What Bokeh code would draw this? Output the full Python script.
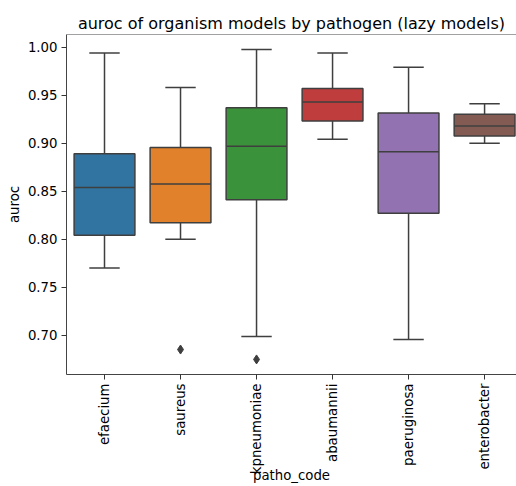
import numpy as np
from bokeh.plotting import figure
from bokeh.models import FixedTicker, Span, ColumnDataSource, NumeralTickFormatter
from bokeh.embed import file_html
from bokeh.resources import INLINE

pathogens = ["efaecium", "saureus", "kpneumoniae", "abaumannii", "paeruginosa", "enterobacter"]
whisker_low = [0.770, 0.800, 0.6986, 0.904, 0.6955, 0.900]
q1 = [0.804, 0.817, 0.841, 0.923, 0.827, 0.9074]
median = [0.8537, 0.8575, 0.8967, 0.9428, 0.891, 0.9178]
q3 = [0.889, 0.8956, 0.937, 0.957, 0.9313, 0.930]
whisker_high = [0.9938, 0.958, 0.9976, 0.9938, 0.979, 0.941]
outlier_pathogen = ["saureus", "kpneumoniae"]
outlier_auroc = [0.685, 0.6747]
colors = ["#3274a1", "#e1812c", "#3a923a", "#c03d3e", "#9372b2", "#845b53"]
y_ticks = [0.70, 0.75, 0.80, 0.85, 0.90, 0.95, 1.00]

FONT = "DejaVu Sans"
LINE = "#3f3f3f"
y_lo, y_hi = 0.659, 1.0132

xs = list(range(len(pathogens)))
box_w = 0.8
cap_w = 0.4

p = figure(width=516, height=486, output_backend="svg", toolbar_location=None,
           x_range=(-0.5, 5.42), y_range=(y_lo, y_hi),
           min_border_left=66, min_border_right=0, min_border_top=34)
p.title.text = "auroc of organism models by pathogen (lazy models)"
p.title.text_font = FONT
p.title.text_font_size = "16px"
p.title.text_font_style = "normal"
p.title.align = "center"
p.title.text_color = "#000000"
p.title.standoff = 4

p.grid.visible = False
p.outline_line_color = None
p.background_fill_color = "white"
p.border_fill_color = "white"

src = ColumnDataSource(dict(
    x=xs, name=pathogens, lo=whisker_low, q1=q1, med=median, q3=q3, hi=whisker_high,
    color=colors,
    x_l=[x - box_w / 2 for x in xs], x_r=[x + box_w / 2 for x in xs],
    c_l=[x - cap_w / 2 for x in xs], c_r=[x + cap_w / 2 for x in xs],
))

p.segment(x0="x", y0="q3", x1="x", y1="hi", source=src, line_color=LINE, line_width=1.5)
p.segment(x0="x", y0="lo", x1="x", y1="q1", source=src, line_color=LINE, line_width=1.5)
p.segment(x0="c_l", y0="hi", x1="c_r", y1="hi", source=src, line_color=LINE, line_width=1.5)
p.segment(x0="c_l", y0="lo", x1="c_r", y1="lo", source=src, line_color=LINE, line_width=1.5)
p.vbar(x="x", width=box_w, bottom="q1", top="q3", source=src, fill_color="color",
       line_color=LINE, line_width=1.5)
p.segment(x0="x_l", y0="med", x1="x_r", y1="med", source=src, line_color=LINE, line_width=1.5)

ox = [pathogens.index(n) for n in outlier_pathogen]
p.scatter(ox, outlier_auroc, marker="diamond", size=9, fill_color=LINE, line_color=LINE)

p.add_layout(Span(location=y_hi, dimension="width", line_color="#444444", line_width=1))

p.xaxis.ticker = FixedTicker(ticks=xs)
p.xaxis.major_label_overrides = {i: n for i, n in enumerate(pathogens)}
p.xaxis.major_label_orientation = np.pi / 2
p.xaxis.axis_label = "patho_code"
p.yaxis.ticker = FixedTicker(ticks=y_ticks)
p.yaxis.formatter = NumeralTickFormatter(format="0.00")
p.yaxis.axis_label = "auroc"

for ax in (p.xaxis, p.yaxis):
    ax.axis_line_color = "#444444"
    ax.axis_line_width = 1
    ax.major_tick_line_color = "#333333"
    ax.major_tick_in = 0
    ax.major_tick_out = 5
    ax.minor_tick_line_color = None
    ax.major_label_text_font = FONT
    ax.major_label_text_font_size = "13.3px"
    ax.major_label_text_color = "#000000"
    ax.axis_label_text_font = FONT
    ax.axis_label_text_font_size = "13.3px"
    ax.axis_label_text_font_style = "normal"
    ax.axis_label_text_color = "#000000"
    ax.major_label_standoff = 4
    ax.axis_label_standoff = 3

p.xaxis.major_label_standoff = 4
p.xaxis.axis_label_standoff = -9

open("out.html", "w").write(file_html(p, INLINE))
